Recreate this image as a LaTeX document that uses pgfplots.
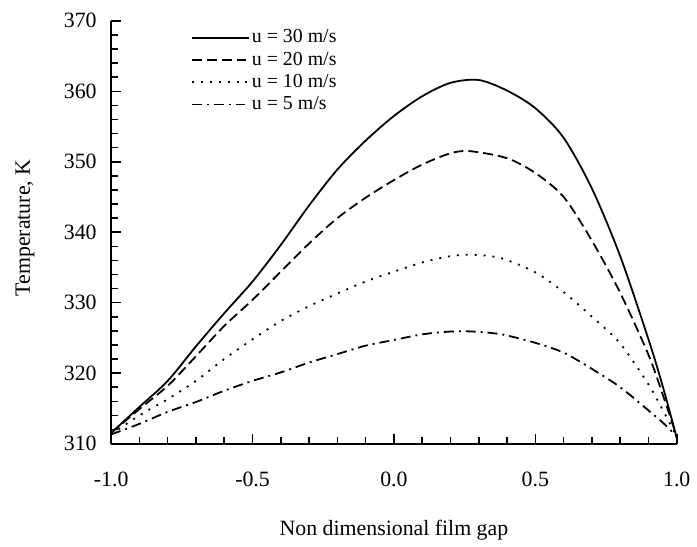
\documentclass[border=0pt]{standalone}
\usepackage{fontspec}
\setmainfont{Liberation Serif}
\usepackage{pgfplots}
\pgfplotsset{compat=1.18}

\begin{document}
\begin{tikzpicture}
\begin{axis}[
    scale only axis,
    width=285pt,
    height=213pt,
    xmin=-1, xmax=1,
    ymin=310, ymax=370,
    axis lines=left,
    axis line style={-, line width=1pt},
    xtick={-1,-0.5,0,0.5,1},
    minor x tick num=4,
    ytick={310,320,...,370},
    minor y tick num=4,
    tick align=inside,
    tick style={black, line width=0.8pt},
    major tick length=5pt,
    minor tick length=3.5pt,
    font=\fontsize{11}{13}\selectfont,
    /pgf/number format/assume math mode=true,
    xticklabel style={/pgf/number format/.cd, fixed, fixed zerofill, precision=1, /tikz/.cd, yshift=-11pt},
    yticklabel style={/pgf/number format/.cd, fixed, precision=0, /tikz/.cd, xshift=-3.8pt},
    xlabel={Non dimensional film gap},
    ylabel={Temperature, K},
    xlabel style={at={(axis description cs:0.5,-0.205)}, anchor=center},
    ylabel style={at={(axis description cs:-0.152,0.51)}, anchor=center, rotate=0},
    legend style={
        draw=none, fill=none,
        at={(axis description cs:0.13,0.995)}, anchor=north west,
        font=\fontsize{10}{10}\selectfont,
        row sep=0.6pt,
        nodes={inner sep=0.8pt, text height=7pt, text depth=2pt},
    },
    legend cell align=left,
    legend image code/.code={\draw[#1] (0pt,0pt) -- (29pt,0pt);},
    every axis plot/.append style={line width=0.9pt, black, smooth},
]
\addplot[solid] coordinates {
    (-1.0,311.5) (-0.9,315.2) (-0.8,318.9) (-0.7,323.8) (-0.6,328.5)
    (-0.5,333.0) (-0.4,338.2) (-0.3,343.8) (-0.2,348.9) (-0.1,353.0)
    (0.0,356.5) (0.1,359.3) (0.2,361.2) (0.3,361.6) (0.4,360.1)
    (0.5,357.6) (0.6,353.4) (0.7,346.2) (0.8,336.6) (0.9,324.8)
    (0.95,318.2) (1.0,310.8)
};
\addplot[dash pattern=on 5pt off 2.5pt] coordinates {
    (-1.0,311.5) (-0.9,314.9) (-0.8,318.2) (-0.7,322.4) (-0.6,326.7)
    (-0.5,330.4) (-0.4,334.4) (-0.3,338.4) (-0.2,342.0) (-0.1,344.9)
    (0.0,347.4) (0.1,349.6) (0.2,351.2) (0.27,351.5) (0.4,350.5)
    (0.5,348.4) (0.6,345.0) (0.7,338.8) (0.8,331.4) (0.9,322.6)
    (0.95,317.0) (1.0,311.0)
};
\addplot[dash pattern=on 1pt off 3.5pt] coordinates {
    (-1.0,311.3) (-0.9,314.0) (-0.8,316.3) (-0.7,318.9) (-0.6,322.0)
    (-0.5,324.8) (-0.4,327.4) (-0.3,329.5) (-0.2,331.3) (-0.1,333.0)
    (0.0,334.4) (0.1,335.7) (0.2,336.6) (0.28,336.8) (0.38,336.3)
    (0.5,334.3) (0.6,331.5) (0.7,328.0) (0.8,324.2) (0.9,318.4)
    (0.95,314.8) (1.0,311.0)
};
\addplot[dash pattern=on 5pt off 2.5pt on 1pt off 2.5pt] coordinates {
    (-1.0,311.3) (-0.9,312.8) (-0.8,314.5) (-0.7,315.9) (-0.6,317.5)
    (-0.5,318.9) (-0.4,320.1) (-0.3,321.5) (-0.2,322.7) (-0.1,323.9)
    (0.0,324.7) (0.1,325.5) (0.2,325.9) (0.28,325.9) (0.38,325.5)
    (0.5,324.3) (0.6,322.9) (0.7,320.6) (0.8,318.0) (0.9,314.7)
    (0.95,313.0) (1.0,311.0)
};
\legend{u = 30 m/s, u = 20 m/s, u = 10 m/s, u = 5 m/s}
\end{axis}
\path (current axis.south west) ++(-56pt,-49pt) rectangle ++(348.5pt,272.5pt);
\end{tikzpicture}
\end{document}
